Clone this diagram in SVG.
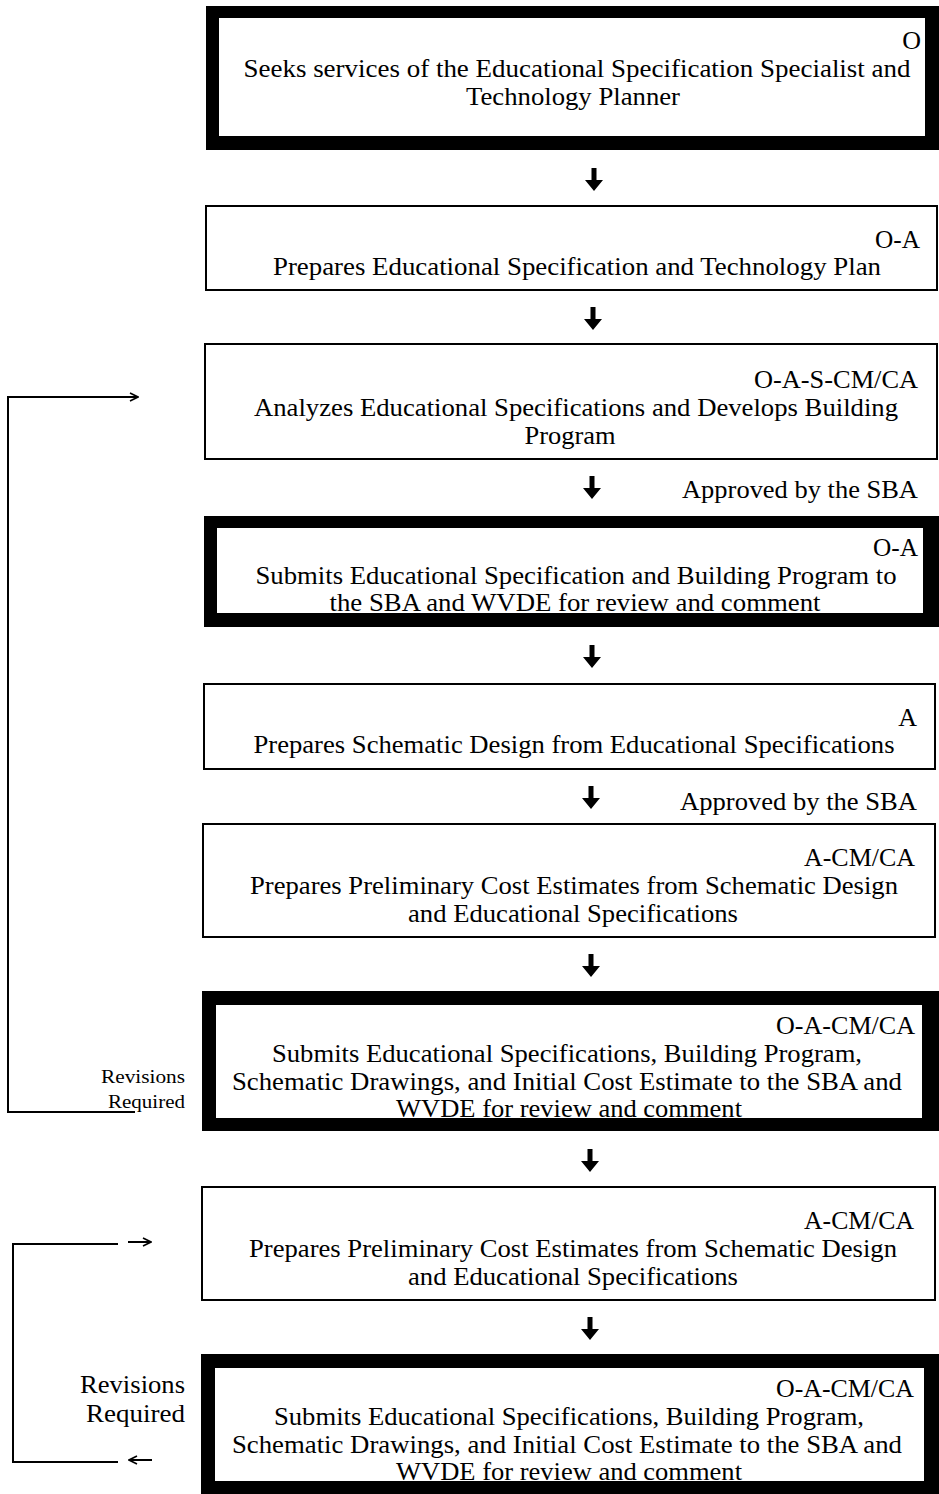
<svg xmlns="http://www.w3.org/2000/svg" width="939" height="1494" viewBox="0 0 939 1494">
  <style>
    text { font-family: "Liberation Serif", "Times New Roman", serif; fill: #000; }
    .t { font-size: 26px; text-anchor: middle; }
    .r { font-size: 26px; text-anchor: end; }
    .note { font-size: 26px; text-anchor: start; }
    .rev { font-size: 18px; text-anchor: end; }
    .rev2 { font-size: 25px; text-anchor: end; }
    .thin { fill: #fff; stroke: #000; stroke-width: 2; }
    .frame { fill: #000; }
    .inner { fill: #fff; }
    .loop { fill: none; stroke: #000; stroke-width: 2; }
  </style>
  <defs>
    <!-- bold down arrow between steps -->
    <path id="down" d="M-2.5,0 H2.5 V12 H9 L0,23 L-9,12 H-2.5 Z" fill="#000"/>
    <marker id="head" markerWidth="10" markerHeight="10" refX="9" refY="5" orient="auto" markerUnits="userSpaceOnUse">
      <path d="M1,1 L9,5 L1,9" fill="none" stroke="#000" stroke-width="1.6"/>
    </marker>
  </defs>

  <rect width="939" height="1494" fill="#fff"/>

  <!-- step 1 -->
  <g id="n1">
    <rect class="frame" x="206" y="6" width="733" height="144"/>
    <rect class="inner" x="219" y="18" width="706" height="118"/>
    <text class="r" x="921" y="49">O</text>
    <text class="t" x="577" y="77" textLength="667" lengthAdjust="spacingAndGlyphs">Seeks services of the Educational  Specification Specialist and</text>
    <text class="t" x="573" y="105" textLength="214" lengthAdjust="spacingAndGlyphs">Technology Planner</text>
  </g>

  <!-- step 2 -->
  <g id="n2">
    <rect class="thin" x="206" y="206" width="731" height="84"/>
    <text class="r" x="920" y="248" textLength="45" lengthAdjust="spacingAndGlyphs">O-A</text>
    <text class="t" x="577" y="275" textLength="608" lengthAdjust="spacingAndGlyphs">Prepares Educational Specification and Technology Plan</text>
  </g>

  <!-- step 3 -->
  <g id="n3">
    <rect class="thin" x="205" y="344" width="732" height="115"/>
    <text class="r" x="918" y="388" textLength="164" lengthAdjust="spacingAndGlyphs">O-A-S-CM/CA</text>
    <text class="t" x="576" y="416" textLength="644" lengthAdjust="spacingAndGlyphs">Analyzes Educational Specifications and Develops Building</text>
    <text class="t" x="570" y="444" textLength="91" lengthAdjust="spacingAndGlyphs">Program</text>
  </g>

  <!-- step 4 -->
  <g id="n4">
    <rect class="frame" x="204" y="516" width="735" height="111"/>
    <rect class="inner" x="217" y="528" width="706" height="85"/>
    <text class="r" x="918" y="556" textLength="45" lengthAdjust="spacingAndGlyphs">O-A</text>
    <text class="t" x="576" y="584" textLength="641" lengthAdjust="spacingAndGlyphs">Submits Educational Specification and Building Program to</text>
    <text class="t" x="575" y="611" textLength="491" lengthAdjust="spacingAndGlyphs">the SBA and WVDE for review and comment</text>
    <rect class="frame" x="217" y="613" width="706" height="14"/>
  </g>

  <!-- step 5 -->
  <g id="n5">
    <rect class="thin" x="204" y="684" width="731" height="85"/>
    <text class="r" x="917" y="726">A</text>
    <text class="t" x="574" y="753" textLength="641" lengthAdjust="spacingAndGlyphs">Prepares Schematic Design from Educational Specifications</text>
  </g>

  <!-- step 6 -->
  <g id="n6">
    <rect class="thin" x="203" y="824" width="732" height="113"/>
    <text class="r" x="915" y="866" textLength="111" lengthAdjust="spacingAndGlyphs">A-CM/CA</text>
    <text class="t" x="574" y="894" textLength="648" lengthAdjust="spacingAndGlyphs">Prepares Preliminary Cost Estimates from Schematic Design</text>
    <text class="t" x="573" y="922" textLength="330" lengthAdjust="spacingAndGlyphs">and Educational Specifications</text>
  </g>

  <!-- step 7 -->
  <g id="n7">
    <rect class="frame" x="202" y="991" width="737" height="140"/>
    <rect class="inner" x="216" y="1005" width="706" height="113"/>
    <text class="r" x="915" y="1034" textLength="139" lengthAdjust="spacingAndGlyphs">O-A-CM/CA</text>
    <text class="t" x="567" y="1062" textLength="590" lengthAdjust="spacingAndGlyphs">Submits Educational Specifications, Building Program,</text>
    <text class="t" x="567" y="1090" textLength="670" lengthAdjust="spacingAndGlyphs">Schematic Drawings, and Initial Cost Estimate to the SBA and</text>
    <text class="t" x="569" y="1117" textLength="346" lengthAdjust="spacingAndGlyphs">WVDE for review and comment</text>
    <rect class="frame" x="216" y="1118" width="706" height="13"/>
  </g>

  <!-- step 8 -->
  <g id="n8">
    <rect class="thin" x="202" y="1187" width="733" height="113"/>
    <text class="r" x="914" y="1229" textLength="110" lengthAdjust="spacingAndGlyphs">A-CM/CA</text>
    <text class="t" x="573" y="1257" textLength="648" lengthAdjust="spacingAndGlyphs">Prepares Preliminary Cost Estimates from Schematic Design</text>
    <text class="t" x="573" y="1285" textLength="330" lengthAdjust="spacingAndGlyphs">and Educational Specifications</text>
  </g>

  <!-- step 9 -->
  <g id="n9">
    <rect class="frame" x="201" y="1354" width="738" height="140"/>
    <rect class="inner" x="215" y="1368" width="709" height="113"/>
    <text class="r" x="914" y="1397" textLength="138" lengthAdjust="spacingAndGlyphs">O-A-CM/CA</text>
    <text class="t" x="569" y="1425" textLength="590" lengthAdjust="spacingAndGlyphs">Submits Educational Specifications, Building Program,</text>
    <text class="t" x="567" y="1453" textLength="670" lengthAdjust="spacingAndGlyphs">Schematic Drawings, and Initial Cost Estimate to the SBA and</text>
    <text class="t" x="569" y="1480" textLength="346" lengthAdjust="spacingAndGlyphs">WVDE for review and comment</text>
    <rect class="frame" x="215" y="1481" width="709" height="13"/>
  </g>

  <!-- connectors -->
  <g id="connectors">
    <use href="#down" x="594" y="168"/>
    <use href="#down" x="593" y="307"/>
    <use href="#down" x="592" y="476"/>
    <use href="#down" x="592" y="645"/>
    <use href="#down" x="591" y="786"/>
    <use href="#down" x="591" y="954"/>
    <use href="#down" x="590" y="1149"/>
    <use href="#down" x="590" y="1317"/>

    <text class="note" x="682" y="498" textLength="236" lengthAdjust="spacingAndGlyphs">Approved by the SBA</text>
    <text class="note" x="680" y="810" textLength="237" lengthAdjust="spacingAndGlyphs">Approved by the SBA</text>

    <!-- first revision loop: step 7 back to step 3 -->
    <path class="loop" d="M135,1112 H8 V397 H138" marker-end="url(#head)"/>
    <text class="rev" x="185" y="1083" textLength="84" lengthAdjust="spacingAndGlyphs">Revisions</text>
    <text class="rev" x="185" y="1108" textLength="77" lengthAdjust="spacingAndGlyphs">Required</text>

    <!-- second revision loop: step 9 back to step 8 -->
    <path class="loop" d="M118,1462 H13 V1244 H118"/>
    <line class="loop" x1="128" y1="1242" x2="151" y2="1242" marker-end="url(#head)"/>
    <line class="loop" x1="152" y1="1460" x2="129" y2="1460" marker-end="url(#head)"/>
    <text class="rev2" x="185" y="1393" textLength="105" lengthAdjust="spacingAndGlyphs">Revisions</text>
    <text class="rev2" x="185" y="1422" textLength="99" lengthAdjust="spacingAndGlyphs">Required</text>
  </g>
</svg>
